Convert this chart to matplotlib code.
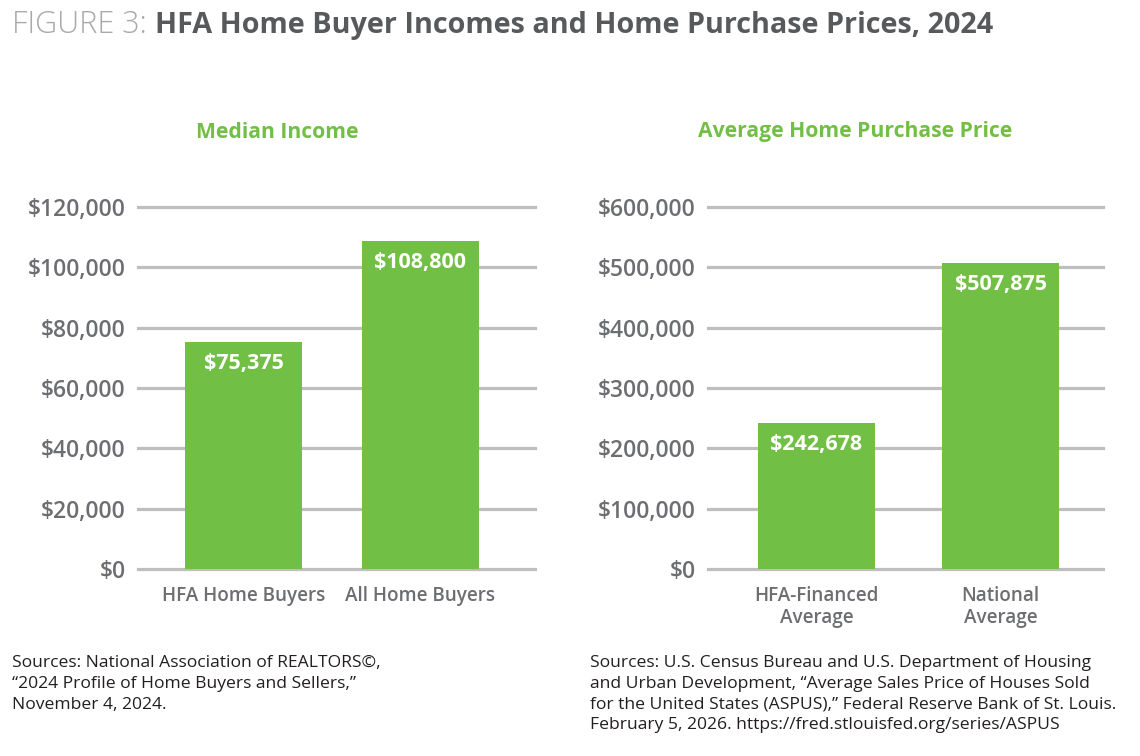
import matplotlib
matplotlib.use('Agg')
import matplotlib.pyplot as plt
import matplotlib.ticker as mtick

# data
income_cats = ['HFA Home Buyers', 'All Home Buyers']
income_vals = [75375, 108800]
price_cats = ['HFA-Financed\nAverage', 'National\nAverage']
price_vals = [242678, 507875]

GREEN = '#71bf44'
GRID = '#bcbec0'
TICK = '#6d6e71'
TITLE = '#58595b'

plt.rcParams['font.family'] = ['Open Sans', 'DejaVu Sans']

fig = plt.figure(figsize=(11.4, 7.56), dpi=100)
ax1 = fig.add_axes([138 / 1140, 187 / 756, 397 / 1140, 362 / 756])
ax2 = fig.add_axes([708 / 1140, 187 / 756, 395 / 1140, 362 / 756])


def draw(ax, cats, vals, ymax, step, width, xlim):
    x = range(len(cats))
    ax.set_axisbelow(True)
    for t in range(0, ymax + 1, step):
        ax.axhline(t, color=GRID, lw=2.3, zorder=0, clip_on=False)
    bars = ax.bar(x, vals, width=width, color=GREEN, zorder=2)
    for b, v in zip(bars, vals):
        ax.annotate('${:,}'.format(v), (b.get_x() + b.get_width() / 2, v),
                    xytext=(0, -8), textcoords='offset points',
                    ha='center', va='top', color='white',
                    fontsize=15.5, fontweight='bold')
    ax.set_ylim(0, ymax)
    ax.set_xlim(*xlim)
    ax.set_yticks(range(0, ymax + 1, step))
    ax.yaxis.set_major_formatter(mtick.StrMethodFormatter('${x:,.0f}'))
    ax.set_xticks(list(x))
    ax.set_xticklabels(cats, linespacing=1.15)
    ax.tick_params(axis='y', length=0, pad=9, labelsize=16.5, labelcolor=TICK)
    ax.tick_params(axis='x', length=0, pad=12, labelsize=13.6, labelcolor=TICK)
    for lab in ax.get_yticklabels():
        lab.set_fontweight('semibold')
    for lab in ax.get_xticklabels():
        lab.set_fontweight('semibold')
    for s in ax.spines.values():
        s.set_visible(False)


draw(ax1, income_cats, income_vals, 120000, 20000, 0.66, (-0.596, 1.647))
draw(ax2, price_cats, price_vals, 600000, 100000, 0.636, (-0.59, 1.557))

# panel titles
fig.text(277 / 1140, 1 - 132 / 756, 'Median Income', color=GREEN, fontsize=15.2,
         fontweight='bold', ha='center', va='center')
fig.text(855 / 1140, 1 - 132 / 756, 'Average Home Purchase Price', color=GREEN,
         fontsize=15.2, fontweight='bold', ha='center', va='center')

# figure title
fig.text(12 / 1140, 1 - 25 / 756, 'FIGURE 3:', fontsize=22, color='#a7a9ac',
         fontweight='light', va='center', ha='left')
fig.text(155 / 1140, 1 - 25 / 756, 'HFA Home Buyer Incomes and Home Purchase Prices, 2024',
         fontsize=20.7, color=TITLE, fontweight='bold', va='center', ha='left')

# sources
fig.text(12 / 1140, 1 - 655 / 756,
         'Sources: National Association of REALTORS\u00a9,\n'
         '\u201c2024 Profile of Home Buyers and Sellers,\u201d\n'
         'November 4, 2024.',
         fontsize=12.6, color='#231f20', va='top', ha='left', linespacing=1.4)
fig.text(590 / 1140, 1 - 655 / 756,
         'Sources: U.S. Census Bureau and U.S. Department of Housing\n'
         'and Urban Development, \u201cAverage Sales Price of Houses Sold\n'
         'for the United States (ASPUS),\u201d Federal Reserve Bank of St. Louis.\n'
         'February 5, 2026. https://fred.stlouisfed.org/series/ASPUS',
         fontsize=12.6, color='#231f20', va='top', ha='left', linespacing=1.4)

fig.savefig('out.png', dpi=100)
